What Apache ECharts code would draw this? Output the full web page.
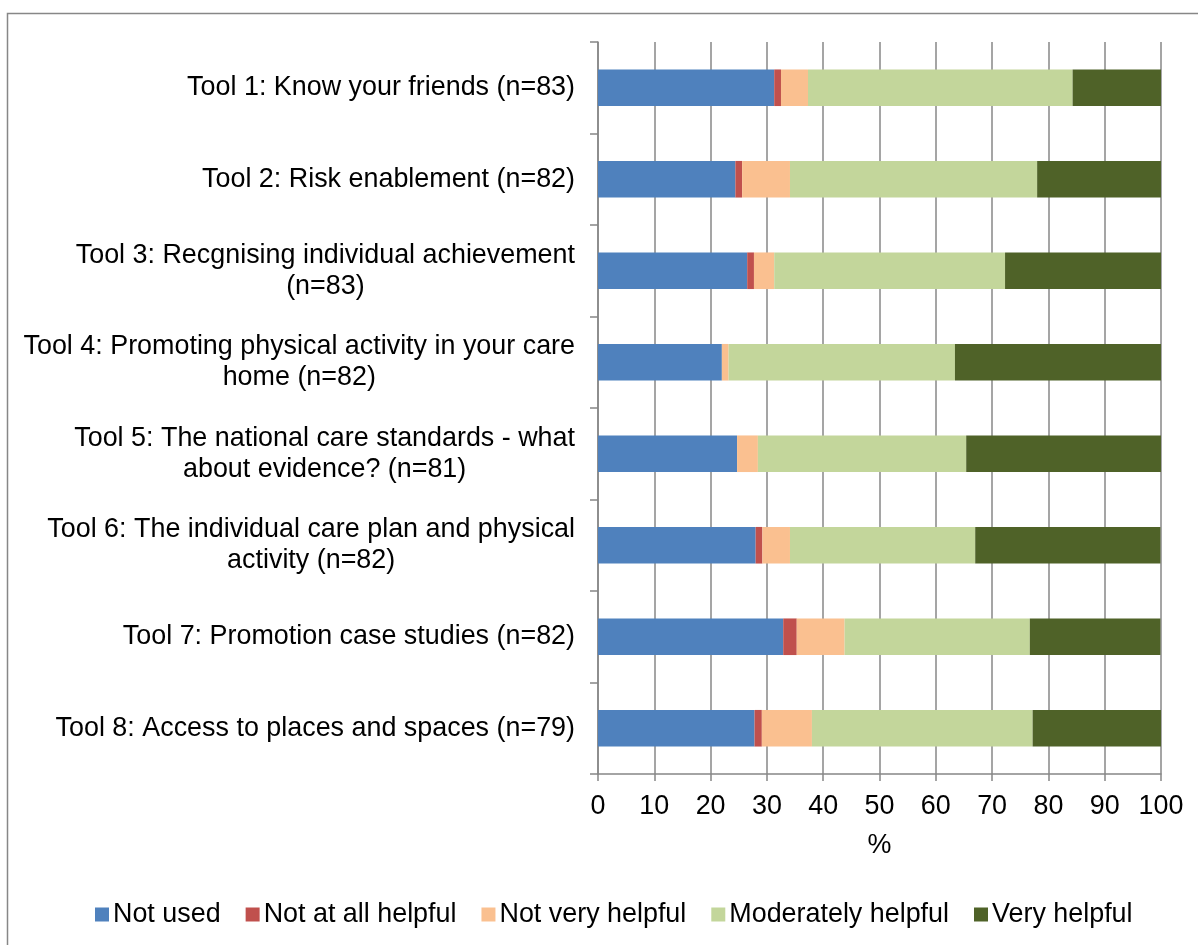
<!DOCTYPE html>
<html>
<head>
<meta charset="utf-8">
<title>Helpfulness of tools</title>
<script src="https://cdn.jsdelivr.net/npm/echarts@6/dist/echarts.min.js"></script>
<style>
  html, body { margin: 0; padding: 0; background: #ffffff; }
  #chart { width: 1198px; height: 945px; }
</style>
</head>
<body>
<div id="chart"></div>
<script>
// Tools rated, top to bottom (line breaks follow the wrapped labels)
const tools = [
  'Tool 1: Know your friends (n=83)',
  'Tool 2: Risk enablement (n=82)',
  'Tool 3: Recgnising individual achievement\n(n=83)',
  'Tool 4: Promoting physical activity in your care\nhome (n=82)',
  'Tool 5: The national care standards - what\nabout evidence? (n=81)',
  'Tool 6: The individual care plan and physical\nactivity (n=82)',
  'Tool 7: Promotion case studies (n=82)',
  'Tool 8: Access to places and spaces (n=79)'
];

// Percentage of respondents per rating
const notUsed          = [31.3, 24.4, 26.5, 22.0, 24.7, 28.0, 32.9, 27.8];
const notAtAllHelpful  = [ 1.2,  1.2,  1.2,  0.0,  0.0,  1.2,  2.4,  1.3];
const notVeryHelpful   = [ 4.8,  8.5,  3.6,  1.2,  3.7,  4.9,  8.5,  8.9];
const moderatelyHelpful= [47.0, 43.9, 41.0, 40.2, 37.0, 32.9, 32.9, 39.2];
const veryHelpful      = [15.7, 22.0, 27.7, 36.6, 34.6, 32.9, 23.2, 22.8];

const ticks = [0, 10, 20, 30, 40, 50, 60, 70, 80, 90, 100];

const FONT = "'Liberation Sans', Arial, sans-serif";
const FS = 26.9;
const GRAY = '#878787';

const seriesDefs = [
  { name: 'Not used',           data: notUsed,           color: '#4F81BD' },
  { name: 'Not at all helpful', data: notAtAllHelpful,   color: '#C0504D' },
  { name: 'Not very helpful',   data: notVeryHelpful,    color: '#FAC090' },
  { name: 'Moderately helpful', data: moderatelyHelpful, color: '#C3D69B' },
  { name: 'Very helpful',       data: veryHelpful,       color: '#4F6228' }
];

const chart = echarts.init(document.getElementById('chart'), null, { renderer: 'canvas' });

chart.setOption({
  backgroundColor: '#ffffff',
  animation: false,
  textStyle: { fontFamily: FONT, color: '#000000' },
  graphic: [{
    type: 'rect',
    shape: { x: 7.5, y: 13.5, width: 1400, height: 1200 },
    style: { fill: 'none', stroke: GRAY, lineWidth: 1.5 },
    silent: true
  }],
  legend: {
    left: 95,
    top: 901,
    padding: 0,
    itemWidth: 14,
    itemHeight: 14,
    itemGap: 25,
    icon: 'rect',
    textStyle: { fontFamily: FONT, fontSize: FS, color: '#000000', padding: [0, 0, 0, -1] },
    data: seriesDefs.map(s => s.name)
  },
  grid: { left: 598, right: 37, top: 42, bottom: 171, containLabel: false },
  xAxis: {
    type: 'value',
    min: 0,
    max: 100,
    interval: 10,
    name: '%',
    nameLocation: 'middle',
    nameGap: 58,
    nameTextStyle: { fontFamily: FONT, fontSize: FS, color: '#000000' },
    axisLine: { show: true, lineStyle: { color: GRAY, width: 1.5 } },
    axisTick: { show: true, length: 7, lineStyle: { color: GRAY, width: 1.5 } },
    axisLabel: {
      margin: 19,
      fontFamily: FONT,
      fontSize: FS,
      color: '#000000',
      formatter: v => (ticks.indexOf(v) >= 0 ? String(v) : '')
    },
    splitLine: { show: true, lineStyle: { color: GRAY, width: 1.5 } }
  },
  yAxis: {
    type: 'category',
    inverse: true,
    data: tools,
    axisLine: { show: true, lineStyle: { color: GRAY, width: 1.5 } },
    axisTick: { show: true, length: 8, lineStyle: { color: GRAY, width: 1.5 } },
    axisLabel: {
      margin: 23,
      align: 'right',
      formatter: v => v.split('\n').map(l => '{c|' + l + '}').join('\n'),
      rich: {
        c: { align: 'center', fontFamily: FONT, fontSize: FS, lineHeight: 31, color: '#000000' }
      }
    },
    splitLine: { show: false }
  },
  series: seriesDefs.map(s => ({
    name: s.name,
    type: 'bar',
    stack: 'total',
    barWidth: '40%',
    data: s.data,
    itemStyle: { color: s.color },
    emphasis: { disabled: true }
  }))
});
</script>
</body>
</html>
